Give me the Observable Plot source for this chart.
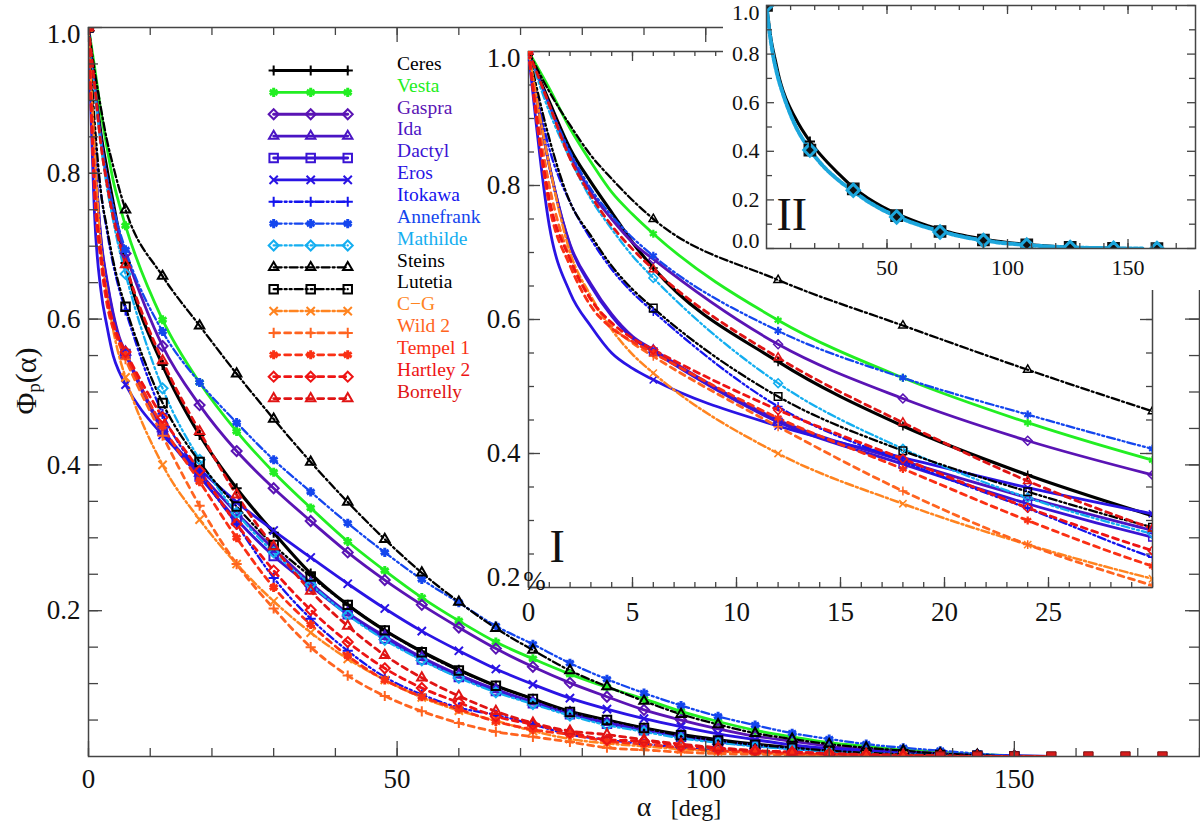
<!DOCTYPE html>
<html>
<head>
<meta charset="utf-8">
<script src="https://cdn.jsdelivr.net/npm/d3@7"></script>
<script src="https://cdn.jsdelivr.net/npm/@observablehq/plot@0.6"></script>
<style>
  body { margin: 0; background: #fff; }
  #chart { position: relative; width: 1200px; height: 823px; overflow: hidden; font-family: "Liberation Serif", serif; color: #111; }
  .lab { position: absolute; white-space: nowrap; line-height: 0.7; }
  .lab sub { font-size: 62%; vertical-align: -0.25em; line-height: 0; }
</style>
</head>
<body>
<div id="chart"></div>
<script>
// phase angle grid, 1 deg steps at the start then the 6 deg marker steps
const alpha = [0, 1, 2, 3, 4, 5, 6, 12, 18, 24, 30, 36, 42, 48, 54, 60, 66, 72, 78, 84, 90, 96, 102, 108, 114, 120, 126, 132, 138, 144, 150, 156];

const ceres = [1, .925, .855, .805, .76, .715, .677, .537, .441, .368, .307, .251, .208, .173, .144, .119, .097, .079, .062, .05, .039, .03, .023, .017, .012, .008, .005, .003, .002, .001, 0, 0];
const vesta = [1, .945, .885, .835, .79, .757, .728, .599, .513, .446, .39, .341, .295, .255, .218, .186, .157, .134, .113, .095, .079, .062, .048, .036, .027, .019, .014, .009, .006, .003, .001, 0];
const gaspra = [1, .92, .845, .79, .75, .715, .69, .563, .482, .419, .368, .323, .28, .242, .208, .177, .148, .123, .101, .082, .064, .05, .038, .028, .021, .014, .01, .007, .004, .002, .001, 0];
const ida = [1, .83, .712, .653, .608, .575, .555, .45, .389, .334, .285, .238, .197, .165, .136, .112, .092, .075, .06, .047, .037, .028, .021, .015, .011, .008, .005, .003, .002, .001, 0, 0];
const dactyl = [1, .83, .71, .65, .605, .572, .552, .447, .384, .325, .275, .234, .195, .162, .133, .109, .09, .073, .058, .045, .036, .027, .02, .015, .011, .007, .005, .003, .002, .001, 0, 0];
const eros = [1, .74, .64, .59, .55, .527, .51, .441, .394, .349, .31, .273, .237, .203, .172, .145, .12, .099, .08, .065, .052, .041, .031, .023, .016, .011, .008, .005, .003, .002, .001, 0];
const itokawa = [1, .855, .775, .72, .675, .64, .612, .47, .388, .318, .245, .189, .145, .109, .085, .067, .057, .044, .03, .023, .017, .012, .008, .006, .004, .003, .002, .001, .001, 0, 0, 0];
const annefrank = [1, .92, .85, .795, .755, .722, .695, .583, .513, .458, .407, .363, .32, .28, .243, .211, .179, .154, .128, .106, .087, .07, .055, .043, .032, .024, .017, .012, .008, .004, .001, 0];
const mathilde = [1, .91, .84, .78, .735, .695, .662, .505, .407, .334, .28, .236, .194, .16, .132, .108, .088, .072, .056, .043, .034, .025, .019, .014, .01, .007, .005, .003, .002, .001, 0, 0];
const steins = [1, .94, .89, .845, .81, .778, .75, .659, .591, .525, .463, .404, .349, .298, .252, .212, .176, .146, .118, .096, .076, .058, .044, .032, .024, .017, .012, .008, .004, .002, 0, 0];
const lutetia = [1, .87, .775, .725, .68, .645, .617, .485, .404, .343, .29, .247, .208, .173, .143, .118, .097, .079, .061, .05, .039, .029, .022, .016, .012, .008, .005, .003, .002, .001, 0, 0];
const cg = [1, .83, .7, .635, .585, .548, .52, .4, .325, .264, .213, .17, .134, .105, .081, .063, .049, .035, .024, .018, .014, .01, .007, .005, .003, .002, .001, .001, 0, 0, 0, 0];
const wild2 = [1, .8, .69, .63, .59, .565, .545, .44, .344, .264, .203, .15, .111, .083, .062, .046, .034, .027, .02, .012, .009, .006, .004, .003, .002, .001, .001, 0, 0, 0, 0, 0];
const tempel1 = [1, .77, .68, .62, .587, .567, .55, .453, .377, .3, .232, .181, .138, .105, .082, .065, .048, .037, .03, .021, .017, .012, .008, .006, .004, .003, .002, .001, 0, 0, 0, 0];
const hartley2 = [1, .78, .69, .63, .595, .572, .555, .465, .392, .319, .255, .201, .157, .121, .094, .074, .055, .044, .033, .023, .021, .015, .011, .008, .006, .004, .002, .001, .001, 0, 0, 0];
const borrelly = [1, .92, .84, .785, .74, .705, .675, .543, .446, .359, .288, .227, .179, .139, .108, .083, .062, .046, .035, .03, .023, .017, .012, .008, .006, .004, .003, .002, .001, 0, 0, 0];

// red squares left on the axis past the end of the curves
const tailAlpha = [138, 144, 150, 156, 162, 168, 174];
const tailPhi = [0, 0, 0, 0, 0, 0, 0];

// panel II markers every 18 deg
const alphaII = [0, 18, 36, 54, 72, 90, 108, 126, 144, 162];
const squaresII = [1, .405, .245, .135, .07, .035, .015, .005, .001, 0];
const diamondsII = [1, .405, .24, .13, .068, .033, .014, .004, .001, 0];

const legendAlpha = [30, 36, 42];

const DASH = "6 5", DOTS = "8 3 2 3 2 3", DOT1 = "8 3 2 3";
const series = [
  { name: "Ceres", values: ceres, color: "#000000", symbol: "plus", dash: null, width: 3.2 },
  { name: "Vesta", values: vesta, color: "#22ee22", symbol: "asterisk", dash: null, width: 2.8 },
  { name: "Gaspra", values: gaspra, color: "#5a14b4", symbol: "diamond2", dash: null, width: 2.8 },
  { name: "Ida", values: ida, color: "#4a14c4", symbol: "triangle2", dash: null, width: 2.8 },
  { name: "Dactyl", values: dactyl, color: "#3a14d4", symbol: "square2", dash: null, width: 2.8 },
  { name: "Eros", values: eros, color: "#2a14e4", symbol: "times", dash: null, width: 2.8 },
  { name: "Itokawa", values: itokawa, color: "#1414ee", symbol: "plus", dash: DOTS, width: 2.3 },
  { name: "Annefrank", values: annefrank, color: "#1446ee", symbol: "asterisk", dash: DOTS, width: 2.3 },
  { name: "Mathilde", values: mathilde, color: "#14aef0", symbol: "diamond2", dash: DOTS, width: 2.3 },
  { name: "Steins", values: steins, color: "#000000", symbol: "triangle2", dash: DOT1, width: 2.3 },
  { name: "Lutetia", values: lutetia, color: "#000000", symbol: "square2", dash: DOTS, width: 2.3 },
  { name: "C\u2212G", values: cg, color: "#ff8420", symbol: "times", dash: DOT1, width: 2.5 },
  { name: "Wild 2", values: wild2, color: "#ff6420", symbol: "plus", dash: DASH, width: 2.8 },
  { name: "Tempel 1", values: tempel1, color: "#fa3014", symbol: "asterisk", dash: DASH, width: 2.8 },
  { name: "Hartley 2", values: hartley2, color: "#ee1414", symbol: "diamond2", dash: DASH, width: 2.8 },
  { name: "Borrelly", values: borrelly, color: "#e01414", symbol: "triangle2", dash: DASH, width: 2.8 }
];

// d3 symbols of the same area come out at very different widths
const symbolSize = { plus: 0.75, times: 0.85, asterisk: 0.95, diamond2: 1, triangle2: 1, square2: 1.2 };
const symbolStroke = { plus: 1, times: 1, asterisk: 1.5, diamond2: 1, triangle2: 1, square2: 1 };

const AXIS = "#444";

// inward ticks on all four sides of a frame
function frameTicks({ w, h, xMajor, xMinor, yMajor, yMinor, xLen, yLen }) {
  const opts = { stroke: AXIS, strokeWidth: 1.3 };
  const marks = [];
  for (const [vals, len] of [[xMinor, xLen[1]], [xMajor, xLen[0]]]) {
    marks.push(Plot.ruleX(vals, { ...opts, insetTop: h - len }));
    marks.push(Plot.ruleX(vals, { ...opts, insetBottom: h - len }));
  }
  for (const [vals, len] of [[yMinor, yLen[1]], [yMajor, yLen[0]]]) {
    marks.push(Plot.ruleY(vals, { ...opts, insetRight: w - len }));
    marks.push(Plot.ruleY(vals, { ...opts, insetLeft: w - len }));
  }
  return marks;
}

function curveMarks(list, r, strokeWidth) {
  const marks = [];
  for (const s of list) {
    marks.push(Plot.line(s.values, {
      x: (d, i) => alpha[i], y: (d) => d,
      stroke: s.color, strokeWidth: s.width, strokeDasharray: s.dash,
      curve: "monotone-x", clip: true
    }));
  }
  for (const s of list) {
    marks.push(Plot.dot(s.values, {
      x: (d, i) => alpha[i], y: (d) => d,
      filter: (d, i) => alpha[i] % 6 === 0 && alpha[i] <= 150,
      symbol: s.symbol, stroke: s.color, fill: "none",
      r: r * symbolSize[s.symbol], strokeWidth: strokeWidth * symbolStroke[s.symbol], clip: true
    }));
  }
  return marks;
}

function legendMarks() {
  const marks = [];
  series.forEach((s, i) => {
    const phi = 0.941 - 0.03 * i;
    marks.push(Plot.line(legendAlpha, { x: (d) => d, y: () => phi, stroke: s.color, strokeWidth: s.width, strokeDasharray: s.dash }));
    marks.push(Plot.dot(legendAlpha, { x: (d) => d, y: () => phi, symbol: s.symbol, stroke: s.color, fill: "none", r: 4.5 * symbolSize[s.symbol], strokeWidth: 2 * symbolStroke[s.symbol] }));
    marks.push(Plot.text([s.name], { x: () => 50, y: () => phi, text: (d) => d, fill: s.color, textAnchor: "start", fontSize: 19.5, dy: -7 }));
  });
  return marks;
}

function yLabels(values, dx, top, bottom, bottomDy) {
  const mid = values.filter((v) => v !== top && v !== bottom);
  const fmt = (d) => d.toFixed(1);
  const o = { y: (d) => d, text: fmt, frameAnchor: "left", dx, textAnchor: "end" };
  const marks = [Plot.text(mid, o), Plot.text([top], { ...o, dy: 7 })];
  if (bottom != null) marks.push(Plot.text([bottom], { ...o, dy: bottomDy }));
  return marks;
}

function xLabels(values, dy) {
  return Plot.text(values, { x: (d) => d, text: (d) => String(d), frameAnchor: "bottom", dy });
}

const chart = document.getElementById("chart");
const serif = '"Liberation Serif", serif';
const styleI = { position: "absolute", left: 0, top: 0, background: "transparent", fontFamily: serif, fontSize: "27px", color: "#111" };
const plotI = { width: 1200, height: 823, marginLeft: 528, marginRight: 48, marginTop: 51, marginBottom: 236, x: { axis: null, domain: [0, 30] }, y: { axis: null, domain: [0.2, 1] }, style: styleI };

// main panel
chart.appendChild(Plot.plot({
  width: 1200, height: 823,
  marginLeft: 88, marginRight: 1, marginTop: 27, marginBottom: 67,
  x: { axis: null, domain: [0, 180] },
  y: { axis: null, domain: [0, 1] },
  style: styleI,
  marks: [
    ...curveMarks(series, 4.5, 2),
    Plot.dot(tailPhi, { x: (d, i) => tailAlpha[i], y: (d) => d, symbol: "square2", r: 6, fill: "#d81c1c", stroke: "#7a1010", strokeWidth: 1, clip: true }),
    Plot.frame({ stroke: AXIS, strokeWidth: 1.5 }),
    ...frameTicks({ w: 1111, h: 729, xMajor: [0, 50, 100, 150], xMinor: d3.range(0, 181, 10), yMajor: [0.2, 0.4, 0.6, 0.8, 1], yMinor: d3.range(0.05, 1, 0.05), xLen: [15, 8], yLen: [14, 10] }),
    ...yLabels([0.2, 0.4, 0.6, 0.8, 1], -8, 1, null),
    xLabels([0, 50, 100, 150], 31),
    ...legendMarks()
  ]
}));

// panel I frame, sits under the white box of panel II
chart.appendChild(Plot.plot({
  ...plotI,
  marks: [
    Plot.frame({ stroke: AXIS, strokeWidth: 1.5 }),
    ...frameTicks({ w: 624, h: 536, xMajor: [0, 5, 10, 15, 20, 25, 30], xMinor: d3.range(0, 31, 1), yMajor: [0.2, 0.4, 0.6, 0.8, 1], yMinor: d3.range(0.25, 1, 0.05), xLen: [10, 5], yLen: [12, 6] }),
    ...yLabels([0.2, 0.4, 0.6, 0.8, 1], -8, 1, 0.2, -10),
    xLabels([0, 5, 10, 15, 20, 25], 33),
    Plot.text(["%"], { frameAnchor: "bottom-left", text: (d) => d, lineAnchor: "middle", textAnchor: "middle", dx: 6, dy: -6 }),
    Plot.text(["I"], { frameAnchor: "bottom-left", text: (d) => d, fontSize: 46, dx: 21, dy: -26 })
  ]
}));

// panel II, whole range on a white box
chart.appendChild(Plot.plot({
  width: 477, height: 290,
  marginLeft: 43, marginRight: 5, marginTop: 5, marginBottom: 42,
  x: { axis: null, domain: [0, 178] },
  y: { axis: null, domain: [0, 1] },
  style: { position: "absolute", left: "723px", top: 0, background: "#fff", fontFamily: serif, fontSize: "22px", color: "#111" },
  marks: [
    Plot.line(ceres, { x: (d, i) => alpha[i], y: (d) => d, stroke: "#000", strokeWidth: 3, curve: "monotone-x", clip: true }),
    Plot.line(mathilde, { x: (d, i) => alpha[i], y: (d) => d, stroke: "#1ca6dc", strokeWidth: 4, strokeDasharray: "4 2", curve: "monotone-x", clip: true }),
    Plot.dot(squaresII, { x: (d, i) => alphaII[i], y: (d) => d, symbol: "square2", r: 6.5, fill: "#111", stroke: "#111", strokeWidth: 2.5, clip: true }),
    Plot.dot(diamondsII, { x: (d, i) => alphaII[i], y: (d) => d, symbol: "diamond2", r: 5.5, fill: "none", stroke: "#1ca6dc", strokeWidth: 3, clip: true }),
    Plot.dot([0.44], { x: () => 18, y: (d) => d, symbol: "plus", r: 3.4, stroke: "#000", strokeWidth: 2 }),
    Plot.frame({ stroke: AXIS, strokeWidth: 1.5 }),
    ...frameTicks({ w: 429, h: 243, xMajor: [50, 100, 150], xMinor: d3.range(10, 178, 10), yMajor: [0, 0.2, 0.4, 0.6, 0.8, 1], yMinor: d3.range(0.1, 1, 0.2), xLen: [9, 5], yLen: [8, 6] }),
    ...yLabels([0, 0.2, 0.4, 0.6, 0.8, 1], -7, 1, 0, -8),
    xLabels([50, 100, 150], 26),
    Plot.text(["II"], { frameAnchor: "bottom-left", text: (d) => d, fontSize: 46, dx: 10, dy: -19 })
  ]
}));

// panel I curves, these run on top of the white box
chart.appendChild(Plot.plot({
  ...plotI,
  marks: curveMarks(series, 4, 1.5)
}));

// axis titles with the subscript, these are plain html
const addLabel = (html, css) => {
  const el = document.createElement("div");
  el.className = "lab";
  el.innerHTML = html;
  el.style.cssText = css;
  chart.appendChild(el);
};
addLabel("\u03A6<sub>p</sub>(\u03B1)", "left:25px;top:381px;font-size:30px;transform:translate(-50%,-50%) rotate(-90deg);");
addLabel("\u03B1", "left:644px;top:807px;font-size:28px;transform:translate(-50%,-50%);");
addLabel("[deg]", "left:696px;top:808px;font-size:24px;transform:translate(-50%,-50%);");
</script>
</body>
</html>
